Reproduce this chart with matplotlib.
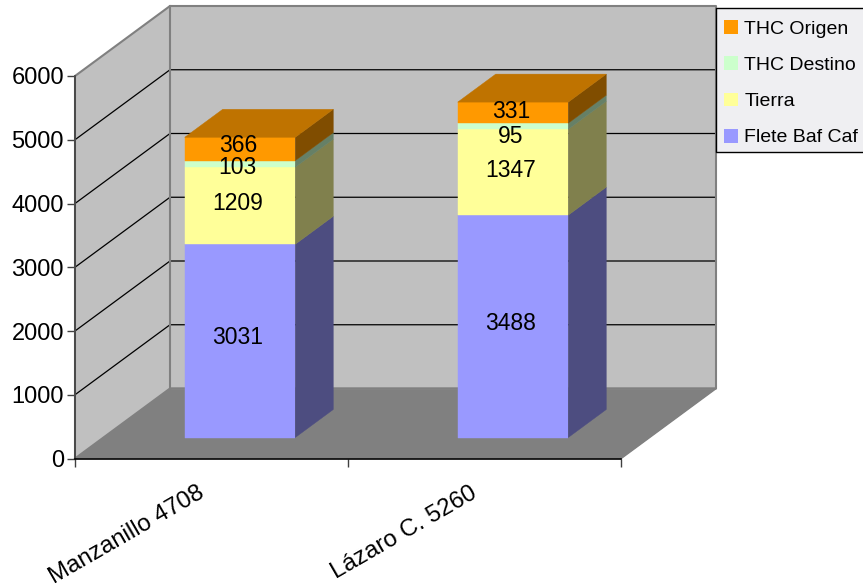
import matplotlib
matplotlib.use("Agg")
import matplotlib.pyplot as plt
from matplotlib.patches import Polygon, Patch, Rectangle

plt.rcParams['font.family'] = ['Liberation Sans', 'DejaVu Sans']

categories = ['Manzanillo 4708', 'Lázaro C. 5260']
flete = [3031, 3488]
tierra = [1209, 1347]
thc_destino = [103, 95]
thc_origen = [366, 331]
y_ticks = [0, 1000, 2000, 3000, 4000, 5000, 6000]

series = [
    ('Flete Baf Caf', flete, '#9999FF', '#4D4D80', '#7373BF'),
    ('Tierra', tierra, '#FFFF99', '#80804D', '#BFBF73'),
    ('THC Destino', thc_destino, '#CCFFCC', '#668066', '#99BF99'),
    ('THC Origen', thc_origen, '#FF9900', '#804D00', '#BF7300'),
]

# vertical nudges for the value labels, in pixels
label_nudge = [[3, 3], [2, 2], [-4, -10], [3, 1]]

W, H = 863, 588
fig = plt.figure(figsize=(W / 100, H / 100), dpi=100, facecolor='white')
ax = fig.add_axes([75 / W, 1 - 458.5 / H, 546 / W, 382.5 / H])
ax.set_xlim(0, len(categories))
ax.set_ylim(0, 6000)
ax.patch.set_visible(False)

# oblique depth of the plot box, in data units
depth_x = 95 / 273
depth_y = 70 / 382.5 * 6000
bar_width = 0.405
bar_near, bar_far = 0.3, 0.7


def proj(x, y, d):
    return (x + d * depth_x, y + d * depth_y)


def face(points, color, edge=None, lw=0, z=1):
    ax.add_patch(Polygon(points, closed=True, facecolor=color,
                         edgecolor=edge if edge else color, linewidth=lw if edge else 0.3,
                         zorder=z, clip_on=False))


# walls and floor
n = len(categories)
face([proj(0, 0, 0), proj(n, 0, 0), proj(n, 0, 1), proj(0, 0, 1)], '#808080', z=1)
face([proj(0, 0, 0), proj(0, 0, 1), proj(0, 6000, 1), proj(0, 6000, 0)], '#C0C0C0', z=1)
face([proj(0, 0, 1), proj(n, 0, 1), proj(n, 6000, 1), proj(0, 6000, 1)], '#C0C0C0', z=1)

# gridlines run along the side wall and across the back wall
for v in y_ticks[1:-1]:
    p0, p1 = proj(0, v, 0), proj(0, v, 1)
    p2 = proj(n, v, 1)
    ax.plot([p0[0], p1[0], p2[0]], [p0[1], p1[1], p2[1]], color='black', lw=0.9,
            zorder=2, clip_on=False, solid_joinstyle='miter')

# grey outline of the walls
outline = [proj(0, 0, 0), proj(0, 6000, 0), proj(0, 6000, 1), proj(n, 6000, 1), proj(n, 0, 1), proj(0, 0, 1),
           proj(0, 0, 0)]
ax.plot([p[0] for p in outline], [p[1] for p in outline], color='#808080', lw=1.5, zorder=3, clip_on=False)
ax.plot(*zip(proj(0, 6000, 1), proj(0, 0, 1)), color='#808080', lw=1.5, zorder=3, clip_on=False)
ax.plot(*zip(proj(n, 0, 0), proj(n, 0, 1), proj(0, 0, 1)), color='#808080', lw=1.2, zorder=3, clip_on=False)

# stacked bars, bottom segment first
for i in range(n):
    x0 = i + 0.5 - bar_width / 2
    x1 = x0 + bar_width
    base = 0
    for s, (name, values, front, side, top) in enumerate(series):
        val = values[i]
        y0, y1 = base, base + val
        face([proj(x0, y0, bar_near), proj(x1, y0, bar_near), proj(x1, y1, bar_near), proj(x0, y1, bar_near)],
             front, z=5 + s)
        face([proj(x1, y0, bar_near), proj(x1, y0, bar_far), proj(x1, y1, bar_far), proj(x1, y1, bar_near)],
             side, z=5 + s)
        if s == len(series) - 1:
            face([proj(x0, y1, bar_near), proj(x1, y1, bar_near), proj(x1, y1, bar_far), proj(x0, y1, bar_far)],
                 top, z=5 + s)
        cx, cy = proj(i + 0.5, (y0 + y1) / 2, bar_near)
        ax.annotate(str(val), (cx, cy), xytext=(-1.6, label_nudge[s][i] * 0.72), textcoords='offset points',
                    ha='center', va='center', fontsize=16.5, color='black', zorder=20)
        base = y1

# axes lines and ticks
for name in ['top', 'right']:
    ax.spines[name].set_visible(False)
ax.spines['left'].set_color('#404040')
ax.spines['left'].set_linewidth(1.2)
ax.spines['left'].set_zorder(4)
ax.spines['bottom'].set_color('black')
ax.spines['bottom'].set_linewidth(1.2)
ax.spines['bottom'].set_zorder(4)
ax.set_yticks(y_ticks)
ax.set_xticks(range(n + 1))
ax.set_xticklabels([])
ax.tick_params(axis='y', direction='out', length=6, width=1, color='#404040', labelsize=17, pad=2)
ax.tick_params(axis='x', direction='out', length=6, width=1, color='#404040')

for i, cat in enumerate(categories):
    ax.annotate(cat, (i + 0.5, 0), xytext=(-4.6, -27.7), textcoords='offset points', ha='right', va='baseline',
                rotation=30, rotation_mode='anchor', fontsize=17.3, color='black')

# legend panel runs off the right edge, so its box is drawn separately
fig.add_artist(Rectangle((716 / W, 1 - 152 / H), 160 / W, 144 / H, transform=fig.transFigure,
                         facecolor='#EFEFF2', edgecolor='black', linewidth=1, zorder=1))
handles = [Patch(facecolor=c[2], edgecolor='none', label=c[0]) for c in reversed(series)]
leg = fig.legend(handles=handles, loc='upper left', bbox_to_anchor=(716 / W, 1 - 12 / H), fontsize=14,
                 frameon=False, handlelength=0.72, handleheight=0.72, handletextpad=0.31, labelspacing=0.95,
                 borderpad=0.42, borderaxespad=0, labelcolor='black')

fig.savefig('out.png', dpi=100)
